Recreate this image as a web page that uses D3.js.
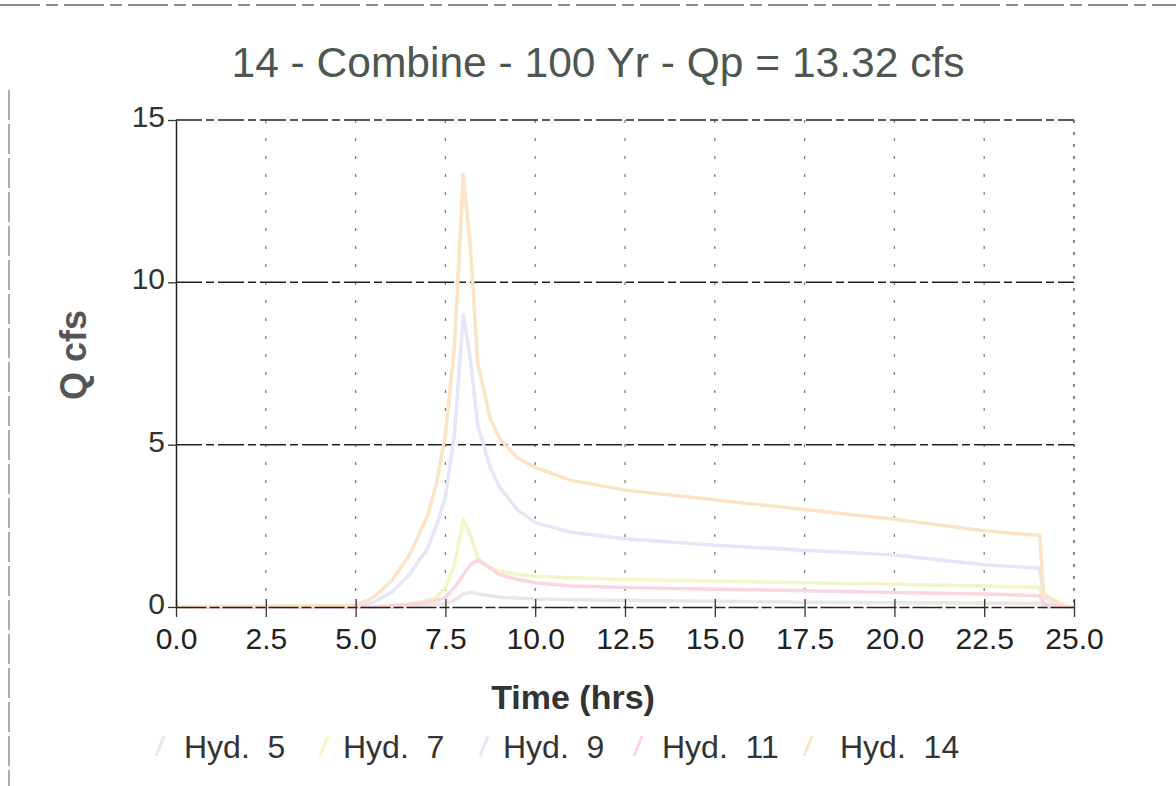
<!DOCTYPE html>
<html><head><meta charset="utf-8">
<script src="https://cdn.jsdelivr.net/npm/d3@7"></script>
<style>html,body{margin:0;padding:0;background:#fff;}svg{display:block;}</style>
</head><body>
<script>
const times = [0, 5.0, 5.5, 6.0, 6.5, 7.0, 7.25, 7.5, 7.75, 8.0, 8.2, 8.4, 8.75, 9.0, 9.5, 10, 11, 12.5, 15, 17.5, 20, 22.5, 24.05, 24.15, 24.8, 25];
const hyd5  = [0, 0, 0, 0, 0.02, 0.05, 0.08, 0.1, 0.2, 0.4, 0.45, 0.4, 0.35, 0.3, 0.28, 0.25, 0.22, 0.2, 0.18, 0.15, 0.13, 0.12, 0.1, 0, 0, 0];
const hyd7  = [0, 0, 0, 0.05, 0.1, 0.2, 0.3, 0.6, 1.3, 2.7, 2.2, 1.5, 1.2, 1.1, 1.0, 0.95, 0.9, 0.85, 0.8, 0.75, 0.7, 0.65, 0.6, 0.1, 0, 0];
const hyd9  = [0, 0, 0.15, 0.45, 1.0, 1.8, 2.5, 3.4, 5.3, 9.0, 7.6, 5.6, 4.3, 3.7, 3.0, 2.6, 2.3, 2.1, 1.9, 1.75, 1.6, 1.3, 1.2, 0.3, 0, 0];
const hyd11 = [0, 0, 0, 0.03, 0.08, 0.15, 0.2, 0.3, 0.6, 1.0, 1.3, 1.45, 1.2, 1.0, 0.85, 0.75, 0.65, 0.6, 0.55, 0.5, 0.45, 0.4, 0.35, 0.1, 0, 0];
const hyd14 = [0, 0.05, 0.3, 0.8, 1.6, 2.8, 3.8, 5.3, 8.0, 13.32, 11.0, 7.5, 5.8, 5.2, 4.6, 4.3, 3.9, 3.6, 3.3, 3.0, 2.7, 2.35, 2.2, 0.4, 0, 0];
const seriesNames = ["Hyd. 5", "Hyd. 7", "Hyd. 9", "Hyd. 11", "Hyd. 14"];
const seriesColors = ["#ebe7e2", "#f1f5c8", "#e6e6f8", "#fbd6dd", "#fde3c6"];
const xTicks = [0, 2.5, 5, 7.5, 10, 12.5, 15, 17.5, 20, 22.5, 25];
const yTicks = [0, 5, 10, 15];
const title = "14 - Combine - 100 Yr - Qp = 13.32 cfs";

const W = 1176, H = 786;
const svg = d3.select("body").append("svg").attr("width", W).attr("height", H);
const font = "'Liberation Sans', Arial, sans-serif";

// page frame remnants from scan
svg.append("line").attr("x1", 0).attr("x2", W).attr("y1", 5).attr("y2", 5)
  .attr("stroke", "#666").attr("stroke-width", 1.5).attr("stroke-dasharray", "40,6,12,6");
svg.append("line").attr("x1", 9).attr("x2", 9).attr("y1", 90).attr("y2", H)
  .attr("stroke", "#777").attr("stroke-width", 1.2).attr("stroke-dasharray", "30,4");

const x = d3.scaleLinear().domain([0, 25]).range([176, 1074]);
const y = d3.scaleLinear().domain([0, 15]).range([607, 120]);

// title
svg.append("text").attr("x", 598).attr("y", 77).attr("text-anchor", "middle")
  .attr("font-family", font).attr("font-size", 42).attr("fill", "#4d5752")
  .attr("textLength", 733).attr("lengthAdjust", "spacingAndGlyphs")
  .text(title);

// vertical grid (faint dotted)
svg.append("g").selectAll("line").data(xTicks.filter(d => d > 0 && d < 25)).join("line")
  .attr("x1", d => x(d)).attr("x2", d => x(d)).attr("y1", y(15)).attr("y2", y(0))
  .attr("stroke", "#555").attr("stroke-width", 1.3).attr("stroke-dasharray", "3,15").attr("opacity", 0.75);

// horizontal grid (dashed dark)
svg.append("g").selectAll("line").data([5, 10, 15]).join("line")
  .attr("x1", x(0)).attr("x2", x(25)).attr("y1", d => y(d)).attr("y2", d => y(d))
  .attr("stroke", "#222").attr("stroke-width", 1.5).attr("stroke-dasharray", "26,4,8,4");

// right border
svg.append("line").attr("x1", x(25)).attr("x2", x(25)).attr("y1", y(15)).attr("y2", y(0))
  .attr("stroke", "#444").attr("stroke-width", 1.3).attr("stroke-dasharray", "3,9");

// lines
const line = d3.line().x((d, i) => x(times[i])).y(d => y(d));
const allSeries = [hyd5, hyd7, hyd9, hyd11, hyd14];
svg.append("g").selectAll("path").data(allSeries).join("path")
  .attr("d", d => line(d)).attr("fill", "none")
  .attr("stroke", (d, i) => seriesColors[i]).attr("stroke-width", 3.5)
  .attr("stroke-linejoin", "round");

// axes
const xAxis = d3.axisBottom(x).tickValues(xTicks).tickFormat(d3.format(".1f")).tickSizeInner(10).tickSizeOuter(0).tickPadding(4);
const gx = svg.append("g").attr("transform", `translate(0,${y(0)})`).call(xAxis);
gx.select(".domain").attr("stroke", "#222").attr("stroke-width", 1.5).attr("stroke-dasharray", "30,3,10,3");
gx.selectAll(".tick line").attr("stroke", "#333").attr("stroke-width", 1.3).attr("y1", -8).attr("y2", 10);
gx.selectAll("text").attr("font-family", font).attr("font-size", 30).attr("fill", "#222")
  .attr("y", 21);

const yAxis = d3.axisLeft(y).tickValues(yTicks).tickFormat(d3.format("d")).tickSizeInner(8).tickSizeOuter(0).tickPadding(3);
const gy = svg.append("g").attr("transform", `translate(${x(0)},0)`).call(yAxis);
gy.select(".domain").attr("stroke", "#222").attr("stroke-width", 1.5);
gy.selectAll(".tick line").attr("stroke", "#333").attr("stroke-width", 1.3);
gy.selectAll("text").attr("font-family", font).attr("font-size", 30).attr("fill", "#333")
  .attr("dy", "0.22em");

// axis titles
svg.append("text").attr("x", 573).attr("y", 709).attr("text-anchor", "middle")
  .attr("font-family", font).attr("font-size", 34).attr("font-weight", "bold").attr("fill", "#333")
  .text("Time (hrs)");
svg.append("text").attr("transform", "translate(86,355) rotate(-90)").attr("text-anchor", "middle")
  .attr("font-family", font).attr("font-size", 36).attr("font-weight", "bold").attr("fill", "#555")
  .text("Q cfs");

// legend
const legTextX = [184, 343, 503, 662, 840];
const legMarkX = [156, 320, 480, 634, 804];
const leg = svg.append("g").selectAll("g").data(seriesNames).join("g");
leg.append("line")
  .attr("x1", (d, i) => legMarkX[i]).attr("y1", 756)
  .attr("x2", (d, i) => legMarkX[i] + 8).attr("y2", 736)
  .attr("stroke", (d, i) => seriesColors[i]).attr("stroke-width", 3);
leg.append("text").attr("x", (d, i) => legTextX[i]).attr("y", 758)
  .attr("font-family", font).attr("font-size", 32).attr("fill", "#333")
  .attr("xml:space", "preserve")
  .text(d => d.replace(". ", ".  "));
</script>
</body></html>
